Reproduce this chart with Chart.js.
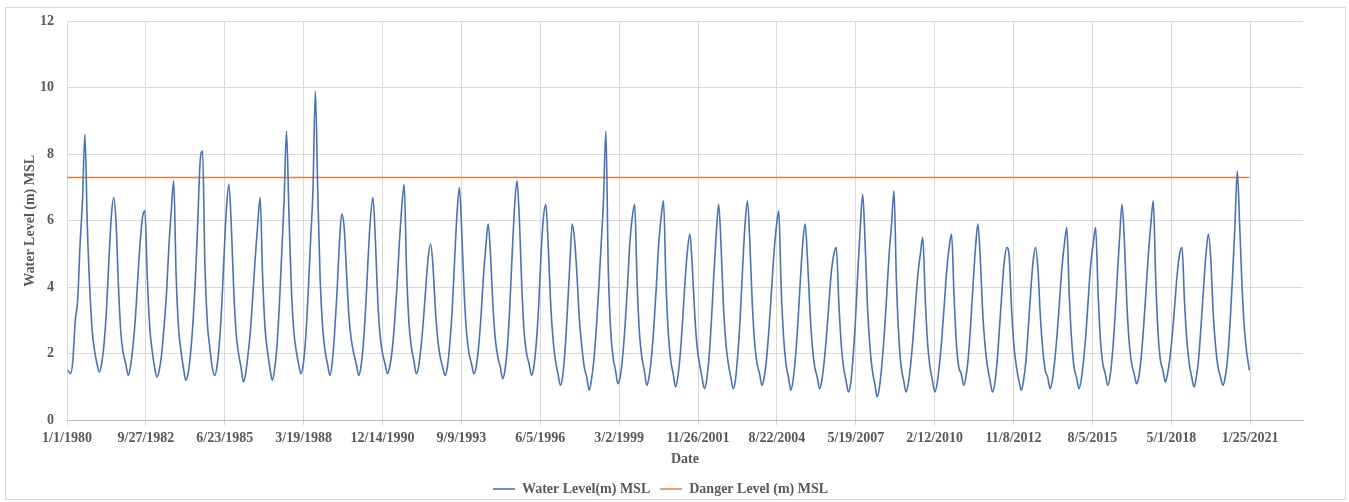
<!DOCTYPE html>
<html>
<head>
<meta charset="utf-8">
<title>Water Level (m) MSL</title>
<script src="https://cdn.jsdelivr.net/npm/chart.js@4.4.0/dist/chart.umd.min.js"></script>
<style>
    html, body { margin: 0; padding: 0; background: #fff; }
    #wrap { width: 1349px; height: 502px; }
</style>
</head>
<body>
<div id="wrap"><canvas id="levelChart" width="1349" height="502"></canvas></div>
<script>
// monthly water level (m, MSL), Jan..Dec
const levels1980s = [
    1.5, 1.4, 1.8, 3.0, 3.6, 5.3, 6.6, 8.6, 5.8, 4.0, 2.7, 2.1,   // 1980
    1.7, 1.45, 1.7, 2.3, 3.3, 4.8, 6.1, 6.7, 5.9, 4.0, 2.6, 2.0,  // 1981
    1.7, 1.35, 1.6, 2.2, 3.0, 4.2, 5.3, 6.1, 6.3, 4.3, 2.8, 2.1,  // 1982
    1.6, 1.3, 1.5, 2.0, 2.8, 3.8, 5.2, 6.3, 7.2, 4.4, 2.8, 2.1,   // 1983
    1.6, 1.2, 1.4, 2.0, 2.9, 4.2, 5.9, 7.8, 8.1, 4.6, 2.9, 2.2,   // 1984
    1.6, 1.35, 1.6, 2.3, 3.4, 5.0, 6.4, 7.1, 5.8, 3.9, 2.6, 2.0,  // 1985
    1.6, 1.15, 1.4, 2.0, 2.7, 3.8, 4.9, 5.9, 6.7, 4.4, 2.8, 2.1,  // 1986
    1.6, 1.2, 1.5, 2.2, 3.4, 5.0, 6.6, 8.7, 6.2, 4.0, 2.7, 2.1,   // 1987
    1.7, 1.4, 1.7, 2.5, 3.8, 5.4, 6.9, 9.9, 6.8, 4.2, 2.8, 2.1,   // 1988
    1.7, 1.35, 1.7, 2.6, 3.8, 5.3, 6.2, 5.8, 4.4, 3.1, 2.4, 2.0   // 1989
];
const levels1990s = [
    1.7, 1.35, 1.6, 2.3, 3.4, 4.9, 6.1, 6.7, 5.4, 3.6, 2.5, 2.0,  // 1990
    1.7, 1.4, 1.6, 2.1, 2.9, 4.0, 5.3, 6.4, 7.1, 4.5, 2.9, 2.2,   // 1991
    1.8, 1.4, 1.6, 2.2, 3.0, 4.0, 4.9, 5.3, 4.6, 3.3, 2.4, 1.9,   // 1992
    1.6, 1.35, 1.6, 2.3, 3.3, 4.8, 6.2, 7.0, 5.6, 3.8, 2.6, 2.0,  // 1993
    1.7, 1.4, 1.6, 2.2, 3.1, 4.3, 5.2, 5.9, 4.9, 3.4, 2.4, 1.9,   // 1994
    1.6, 1.25, 1.5, 2.2, 3.4, 5.0, 6.4, 7.2, 6.0, 4.0, 2.6, 2.0,  // 1995
    1.7, 1.35, 1.6, 2.3, 3.4, 5.0, 6.1, 6.5, 5.2, 3.5, 2.4, 1.8,  // 1996
    1.4, 1.05, 1.3, 2.1, 3.3, 4.7, 5.9, 5.4, 4.3, 3.0, 2.2, 1.6,  // 1997
    1.3, 0.9, 1.2, 1.8, 2.7, 3.9, 5.2, 6.6, 8.7, 4.6, 2.7, 1.9,   // 1998
    1.5, 1.1, 1.3, 1.9, 2.8, 4.0, 5.3, 6.1, 6.5, 4.2, 2.6, 1.9    // 1999
];
const levels2000s = [
    1.5, 1.05, 1.3, 1.9, 2.8, 4.0, 5.3, 6.1, 6.6, 4.2, 2.6, 1.8,  // 2000
    1.4, 1.0, 1.3, 2.0, 3.0, 4.2, 5.1, 5.6, 4.6, 3.2, 2.2, 1.7,   // 2001
    1.3, 0.95, 1.2, 1.9, 3.0, 4.4, 5.6, 6.5, 5.2, 3.4, 2.3, 1.7,  // 2002
    1.3, 0.95, 1.2, 2.0, 3.1, 4.6, 5.9, 6.6, 5.3, 3.5, 2.3, 1.7,  // 2003
    1.4, 1.05, 1.3, 1.9, 2.8, 3.9, 5.0, 5.8, 6.3, 4.0, 2.5, 1.7,  // 2004
    1.3, 0.9, 1.2, 1.9, 2.9, 4.2, 5.3, 5.9, 4.8, 3.3, 2.2, 1.6,   // 2005
    1.3, 0.95, 1.2, 1.8, 2.6, 3.6, 4.5, 5.0, 5.2, 3.6, 2.3, 1.6,  // 2006
    1.2, 0.85, 1.1, 1.9, 3.0, 4.5, 5.8, 6.8, 5.3, 3.4, 2.2, 1.5,  // 2007
    1.1, 0.7, 1.0, 1.7, 2.6, 3.8, 5.0, 5.9, 6.9, 4.2, 2.5, 1.6,   // 2008
    1.2, 0.85, 1.1, 1.7, 2.5, 3.5, 4.4, 5.0, 5.5, 3.7, 2.3, 1.6   // 2009
];
const levels2010s = [
    1.2, 0.85, 1.1, 1.7, 2.5, 3.5, 4.5, 5.2, 5.6, 3.8, 2.3, 1.6,  // 2010
    1.4, 1.05, 1.3, 1.9, 2.9, 4.1, 5.2, 5.9, 4.8, 3.2, 2.2, 1.6,  // 2011
    1.2, 0.85, 1.1, 1.8, 2.8, 3.9, 4.8, 5.2, 4.9, 3.3, 2.2, 1.6,  // 2012
    1.2, 0.9, 1.2, 1.8, 2.8, 3.9, 4.8, 5.2, 4.5, 3.1, 2.1, 1.5,   // 2013
    1.3, 0.95, 1.2, 1.8, 2.6, 3.6, 4.6, 5.3, 5.8, 3.8, 2.4, 1.6,  // 2014
    1.3, 0.95, 1.2, 1.8, 2.6, 3.7, 4.7, 5.3, 5.8, 3.9, 2.4, 1.7,  // 2015
    1.4, 1.05, 1.3, 2.0, 3.0, 4.3, 5.5, 6.5, 5.3, 3.5, 2.3, 1.7,  // 2016
    1.4, 1.1, 1.3, 1.9, 2.8, 3.9, 5.0, 5.9, 6.6, 4.3, 2.6, 1.8,   // 2017
    1.5, 1.15, 1.4, 1.9, 2.6, 3.5, 4.4, 5.0, 5.2, 3.6, 2.4, 1.7,  // 2018
    1.3, 1.0, 1.3, 1.9, 2.9, 4.0, 5.0, 5.6, 4.8, 3.2, 2.2, 1.6    // 2019
];
const levels2020s = [
    1.3, 1.05, 1.3, 1.9, 2.9, 4.3, 5.8, 7.5, 5.8, 4.0, 2.7, 2.0,  // 2020
    1.5                                                          // Jan 2021
];

const startYear = 1980;
const dangerLevel = 7.3;
// days since 1/1/1980 where Excel put a date label (every 1000th row)
const dateTickDays = [0, 1000, 2000, 3000, 4000, 5000, 6000, 7000, 8000,
                      9000, 10000, 11000, 12000, 13000, 14000, 15000];
const dayAxisMax = 15670;
const yTicks = [0, 2, 4, 6, 8, 10, 12];

const DAY = 86400000;
const origin = Date.UTC(startYear, 0, 1);

const allLevels = [].concat(levels1980s, levels1990s, levels2000s, levels2010s, levels2020s);
const waterPoints = allLevels.map((v, i) => ({
    x: (Date.UTC(startYear + Math.floor(i / 12), i % 12, 15) - origin) / DAY,
    y: v
}));
const lastDay = waterPoints[waterPoints.length - 1].x;
const dangerPoints = [{ x: 0, y: dangerLevel }, { x: lastDay, y: dangerLevel }];

function dayLabel(d) {
    const dt = new Date(origin + Math.round(d) * DAY);
    return (dt.getUTCMonth() + 1) + '/' + dt.getUTCDate() + '/' + dt.getUTCFullYear();
}

const textColor = '#595959';
const gridColor = '#d9d9d9';
const font = { family: "'Liberation Serif', 'Times New Roman', serif", size: 14, weight: 'bold' };

// light frame round the whole chart
const frame = {
    id: 'frame',
    beforeDraw(chart) {
        const ctx = chart.ctx;
        ctx.save();
        ctx.strokeStyle = gridColor;
        ctx.lineWidth = 1;
        ctx.strokeRect(5.5, 7.5, 1340, 492);
        ctx.restore();
    }
};

new Chart(document.getElementById('levelChart'), {
    type: 'line',
    plugins: [frame],
    data: {
        datasets: [{
            label: 'Water Level(m) MSL',
            data: waterPoints,
            borderColor: '#4472C4',
            backgroundColor: '#4472C4',
            borderWidth: 1.6,
            pointRadius: 0,
            cubicInterpolationMode: 'monotone'
        }, {
            label: 'Danger Level (m) MSL',
            data: dangerPoints,
            borderColor: '#ED7D31',
            backgroundColor: '#ED7D31',
            borderWidth: 1.5,
            pointRadius: 0
        }]
    },
    options: {
        responsive: false,
        animation: false,
        layout: { padding: { left: 18, right: 46, top: 13, bottom: 2 } },
        plugins: {
            tooltip: { enabled: false },
            legend: {
                position: 'bottom',
                maxHeight: 28,
                labels: {
                    color: textColor,
                    font: font,
                    usePointStyle: true,
                    pointStyle: 'line',
                    pointStyleWidth: 22,
                    boxHeight: 14,
                    padding: 10
                }
            }
        },
        scales: {
            x: {
                type: 'linear',
                min: 0,
                max: dayAxisMax,
                afterBuildTicks: (s) => { s.ticks = dateTickDays.map(v => ({ value: v })); },
                grid: { color: gridColor, tickLength: 5 },
                border: { color: '#bfbfbf' },
                ticks: {
                    autoSkip: false,
                    maxRotation: 0,
                    padding: 5,
                    color: textColor,
                    font: font,
                    callback: (v) => dayLabel(v)
                },
                title: {
                    display: true, text: 'Date', color: textColor,
                    font: { ...font, lineHeight: 1 },
                    padding: { top: 0, bottom: 6 }
                }
            },
            y: {
                min: 0,
                max: 12,
                afterFit: (s) => { s.width = 49; },
                afterBuildTicks: (s) => { s.ticks = yTicks.map(v => ({ value: v })); },
                grid: { color: gridColor, drawTicks: false },
                border: { display: false },
                ticks: { padding: 13, color: textColor, font: font },
                title: { display: true, text: 'Water Level (m) MSL', color: textColor, font: font, padding: { top: 4, bottom: 0 } }
            }
        }
    }
});
</script>
</body>
</html>
